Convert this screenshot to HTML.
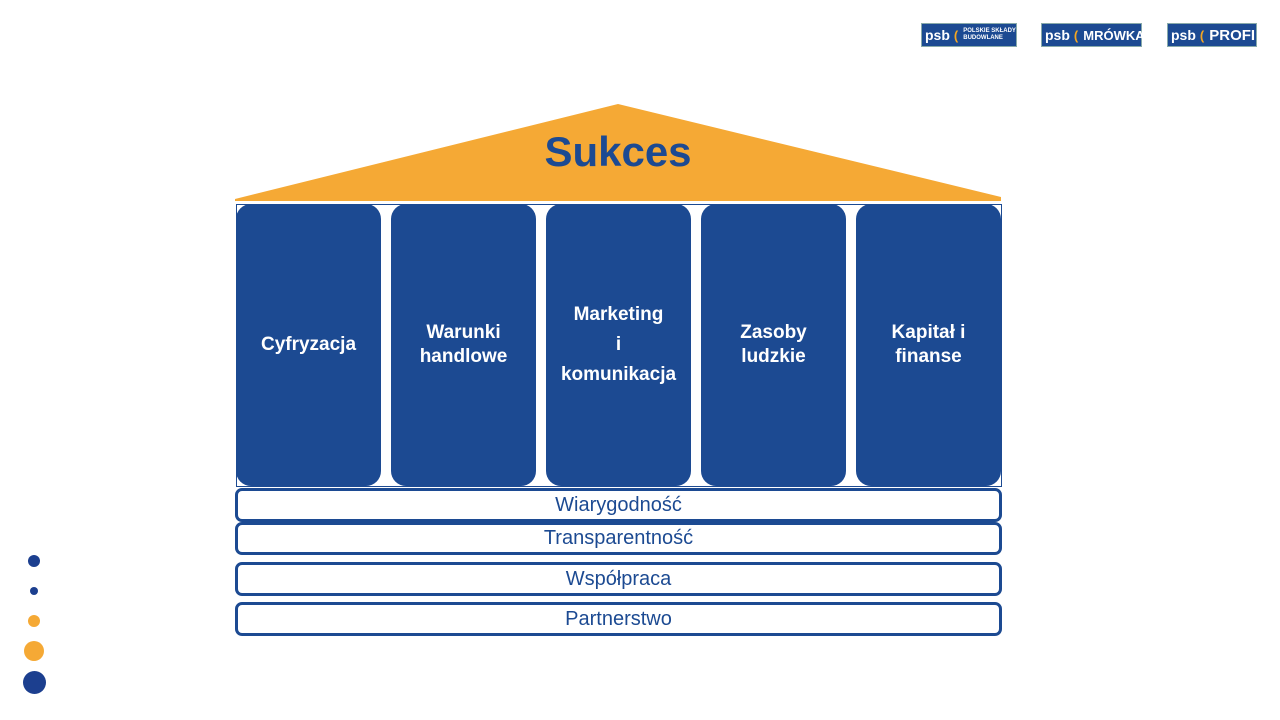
<!DOCTYPE html>
<html><head><meta charset="utf-8"><style>
body{margin:0;width:1280px;height:720px;background:#fff;position:relative;overflow:hidden;font-family:"Liberation Sans",sans-serif}
.p{position:absolute;top:204px;width:145px;height:282px;background:#1c4a92;border-radius:15px;color:#fff;font-weight:bold;font-size:19px;display:flex;align-items:center;justify-content:center;text-align:center;line-height:24px}
.b{position:absolute;left:235px;border:3px solid #1c4a92;border-radius:7px;color:#1c4a92;font-size:20px;text-align:center;box-sizing:border-box;width:767px}
.d{position:absolute;border-radius:50%}
.lg{position:absolute;top:23px;height:22px;background:#1c4a92;color:#fff;font-weight:bold;display:flex;align-items:center;font-size:13px;border:1px solid #8aa}
.lg span.p1{font-size:14px;margin:0 4px 0 3px;font-family:"Liberation Sans Narrow","Liberation Sans",sans-serif}
.lg span.c{color:#f5a623;margin-right:5px}
</style></head><body>
<div class="lg" style="left:921px;width:94px"><span class="p1">psb</span><span class="c">(</span><span style="font-size:6px;line-height:7px">POLSKIE SKŁADY<br>BUDOWLANE</span></div>
<div class="lg" style="left:1041px;width:99px"><span class="p1">psb</span><span class="c">(</span><span>MRÓWKA</span></div>
<div class="lg" style="left:1167px;width:88px"><span class="p1">psb</span><span class="c">(</span><span style="font-size:15px">PROFI</span></div>
<svg style="position:absolute;left:0;top:0" width="1280" height="720">
<polygon points="235,199 618,104 1001,197 1001,201 235,201" fill="#f5a935"/>
<rect x="236.5" y="204.5" width="765" height="282" fill="none" stroke="#1c4a92" stroke-width="1"/>
</svg>
<div style="position:absolute;left:0;width:1236px;top:128px;text-align:center;font-size:42px;font-weight:bold;color:#1c4a92">Sukces</div>
<div class="p" style="left:236px">Cyfryzacja</div>
<div class="p" style="left:391px">Warunki<br>handlowe</div>
<div class="p" style="left:546px;line-height:30px">Marketing<br>i<br>komunikacja</div>
<div class="p" style="left:701px">Zasoby<br>ludzkie</div>
<div class="p" style="left:856px">Kapitał i<br>finanse</div>
<div class="b" style="top:488px;height:34px;line-height:28px">Wiarygodność</div>
<div class="b" style="top:522px;height:33px;line-height:27px">Transparentność</div>
<div class="b" style="top:562px;height:34px;line-height:28px">Współpraca</div>
<div class="b" style="top:602px;height:34px;line-height:28px">Partnerstwo</div>
<div class="d" style="left:28px;top:555px;width:12px;height:12px;background:#1c3f8f"></div>
<div class="d" style="left:30px;top:587px;width:8px;height:8px;background:#1c3f8f"></div>
<div class="d" style="left:28px;top:615px;width:12px;height:12px;background:#f5a935"></div>
<div class="d" style="left:24px;top:641px;width:20px;height:20px;background:#f5a935"></div>
<div class="d" style="left:23px;top:671px;width:23px;height:23px;background:#1c3f8f"></div>
</body></html>
